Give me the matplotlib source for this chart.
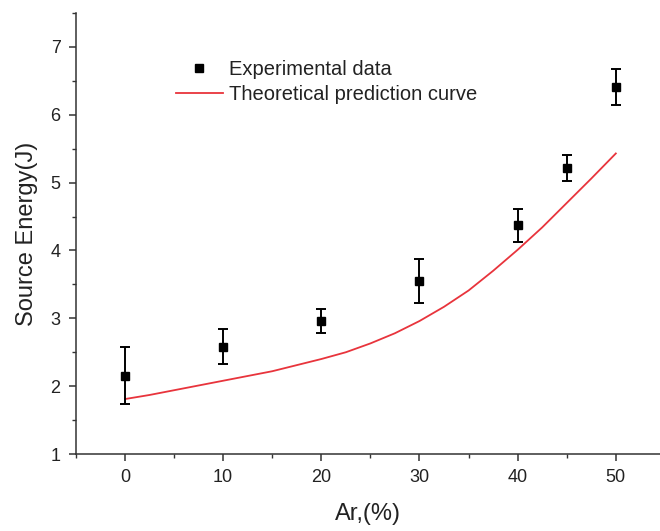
import matplotlib
matplotlib.use('Agg')
import matplotlib.pyplot as plt
from matplotlib.ticker import MultipleLocator

plt.rcParams['font.family'] = ['Liberation Sans', 'DejaVu Sans']

# experimental data
ar_pct = [0, 10, 20, 30, 40, 45, 50]
energy = [2.15, 2.58, 2.96, 3.55, 4.37, 5.21, 6.41]
energy_err = [0.42, 0.26, 0.18, 0.32, 0.24, 0.19, 0.27]

# theoretical prediction curve
theo_x = [0, 2.5, 5, 7.5, 10, 12.5, 15, 17.5, 20, 22.5, 25,
          27.5, 30, 32.5, 35, 37.5, 40, 42.5, 45, 47.5, 50]
theo_y = [1.81, 1.87, 1.94, 2.01, 2.08, 2.15, 2.22, 2.31, 2.40, 2.50, 2.63,
          2.78, 2.96, 3.17, 3.41, 3.70, 4.01, 4.34, 4.70, 5.06, 5.43]

txt = '#222222'

fig = plt.figure(figsize=(6.6, 5.31), dpi=100)
ax = fig.add_axes([0.115, 0.145, 0.885, 0.8305])

ax.plot(theo_x, theo_y, color='#e8343c', lw=1.3, label='Theoretical prediction curve', zorder=2)
ax.errorbar(ar_pct, energy, yerr=energy_err, fmt='none', ecolor='black',
            elinewidth=1.4, capsize=3.6, capthick=1.4, zorder=3)
ax.plot(ar_pct, energy, 's', color='black', ms=6, ls='none',
        label='Experimental data', zorder=4)

ax.set_xlim(-5, 54.5)
ax.set_ylim(1, 7.5)
ax.xaxis.set_major_locator(MultipleLocator(10))
ax.xaxis.set_minor_locator(MultipleLocator(5))
ax.yaxis.set_major_locator(MultipleLocator(1))
ax.yaxis.set_minor_locator(MultipleLocator(0.5))

for s in ['top', 'right']:
    ax.spines[s].set_visible(False)
for s in ['left', 'bottom']:
    ax.spines[s].set_linewidth(1.1)
    ax.spines[s].set_color('#333333')

ax.tick_params(which='major', direction='out', length=5, width=1.1,
               colors='#333333', labelsize=13, labelcolor=txt, pad=6)
ax.tick_params(which='minor', direction='out', length=3, width=1.0, colors='#333333')

ax.set_xlabel('Ar,(%)', fontsize=17, color=txt, labelpad=12)
ax.set_ylabel('Source Energy(J)', fontsize=17, color=txt, labelpad=9)

h, l = ax.get_legend_handles_labels()
ax.legend(h[::-1], l[::-1], loc='upper left', bbox_to_anchor=(0.158, 0.912),
          frameon=False, fontsize=14.5, handlelength=2.3, handletextpad=0.3,
          labelspacing=0.3, borderaxespad=0, labelcolor=txt)

fig.savefig('out.png', dpi=100)
